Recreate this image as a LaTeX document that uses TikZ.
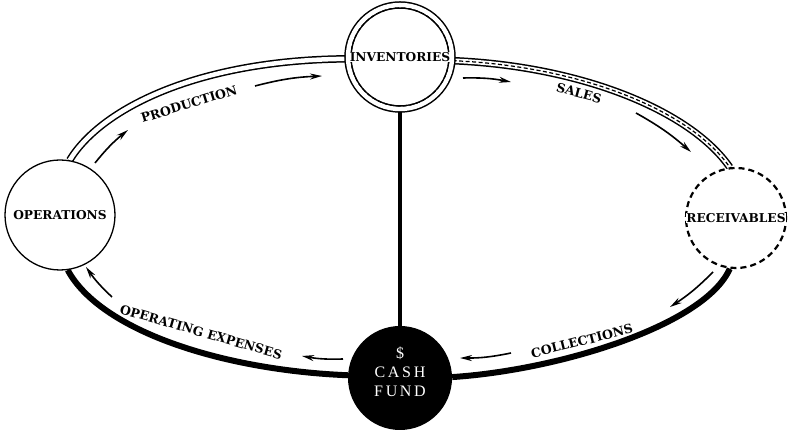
\documentclass[tikz,border=0pt]{standalone}
\usepackage{fontspec}
\setmainfont{DejaVu Serif}
\newfontfamily\cashfont{Liberation Serif}
\usetikzlibrary{arrows.meta,backgrounds}
\begin{document}
\begin{tikzpicture}[x=1pt,y=1pt,
  dbl/.style={draw=black, line width=1.5pt, double=white, double distance=4.5pt},
  midd/.style={draw=black, line width=1.2pt, dash pattern=on 4pt off 2.5pt},
  heavy/.style={draw=black, line width=6pt},
  lab/.style={font=\bfseries\fontsize{12.5}{14}\selectfont, inner sep=1pt},
  boxlab/.style={font=\bfseries\fontsize{12.2}{14}\selectfont, inner sep=0.5pt, fill=white},
  arr/.style={-{Stealth[length=12pt,width=6pt]}, line width=1.6pt, bend left=6},
  disc/.style={circle, inner sep=0pt, minimum size=#1}
]
\useasboundingbox (0,0) rectangle (793,435);
% nodes
\node[disc=104pt, fill=white, dbl] (inv) at (400,378) {};
\node[disc=104pt, fill=black] (cash) at (400,57) {};
\node[disc=110pt, fill=white, draw=black, line width=1.3pt] (ops) at (60,220) {};
\node[disc=100pt, fill=white, draw=black, line width=2.2pt, dash pattern=on 6pt off 4pt] (rec) at (736,217) {};
\draw[midd] (inv.center) circle[radius=49pt];
% cycle paths
\begin{scope}[on background layer]
\draw[dbl] (ops.80) .. controls (100,325) and (195,375) .. (inv.182);
\draw[dbl] (inv.-4) .. controls (580,369) and (690,325) .. (rec.97);
\draw[midd] (inv.-4) .. controls (580,369) and (690,325) .. (rec.97);
\draw[heavy] (rec.-97) .. controls (705,110) and (560,65) .. (cash.1);
\draw[heavy] (cash.177) .. controls (220,65) and (100,105) .. (ops.-82);
\draw[line width=4pt] (inv.south) -- (cash.north);
\end{scope}
% node texts
\node[boxlab] (invt) at (inv.center) {INVENTORIES};
\node[boxlab] (opst) at (ops.center) {OPERATIONS};
\node[boxlab] (rect) at (rec.center) {RECEIVABLES};
\node[font=\cashfont\fontsize{16}{19}\selectfont, text=white, align=center, inner sep=0pt] (casht) at (400,63) {\$\\C\,A\,S\,H\\F\,U\,N\,D};
% path labels
\node[lab, rotate=17] (lprod) at (189,331) {PRODUCTION};
\node[lab, rotate=-15] (lsales) at (579,342) {SALES};
\node[lab, rotate=-16] (lopex) at (201,103) {OPERATING EXPENSES};
\node[lab, rotate=14] (lcoll) at (582,94) {COLLECTIONS};
% arrows
\coordinate (p1a) at (95,272); \coordinate (p1b) at (128,305);
\coordinate (p2a) at (255,349); \coordinate (p2b) at (322,359);
\coordinate (s1a) at (463,357); \coordinate (s1b) at (511,353);
\coordinate (s2a) at (636,322); \coordinate (s2b) at (691,283);
\coordinate (c1a) at (713,163); \coordinate (c1b) at (670,128);
\coordinate (c2a) at (511,82); \coordinate (c2b) at (460,77);
\coordinate (o1a) at (343,76); \coordinate (o1b) at (302,79);
\coordinate (o2a) at (112,138); \coordinate (o2b) at (86,168);
\draw[arr] (p1a) to (p1b);
\draw[arr] (p2a) to (p2b);
\draw[arr] (s1a) to (s1b);
\draw[arr] (s2a) to (s2b);
\draw[arr] (c1a) to (c1b);
\draw[arr] (c2a) to (c2b);
\draw[arr] (o1a) to (o1b);
\draw[arr] (o2a) to (o2b);
\end{tikzpicture}
\end{document}
